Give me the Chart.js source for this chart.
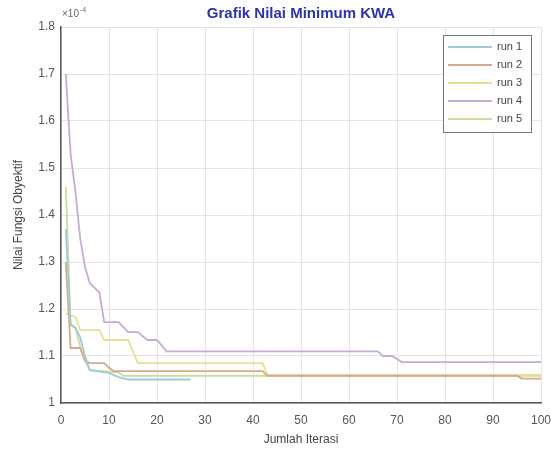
<!DOCTYPE html>
<html>
<head>
<meta charset="utf-8">
<script src="https://cdn.jsdelivr.net/npm/chart.js@4/dist/chart.umd.min.js"></script>
<style>
html,body{margin:0;padding:0;background:#fff;}
#wrap{width:551px;height:451px;}
</style>
</head>
<body>
<div id="wrap"><canvas id="c" width="551" height="451"></canvas></div>
<script>
// values in units of 1e-4
const seriesLabels = ["run 1", "run 2", "run 3", "run 4", "run 5"];
const xTicks = [0, 10, 20, 30, 40, 50, 60, 70, 80, 90, 100];
const yTicks = [1, 1.1, 1.2, 1.3, 1.4, 1.5, 1.6, 1.7, 1.8];

const run1X = [1, 2, 3, 4, 5, 6, 10, 12, 14, 27];
const run1Y = [1.37, 1.165, 1.16, 1.14, 1.10, 1.07, 1.064, 1.055, 1.05, 1.05];

const run2X = [1, 2, 4, 5, 6, 9, 10, 11, 42, 43, 95, 96, 100];
const run2Y = [1.30, 1.117, 1.117, 1.09, 1.085, 1.085, 1.075, 1.068, 1.068, 1.058, 1.058, 1.052, 1.052];

const run3X = [1, 3, 4, 8, 9, 14, 16, 42, 43, 100];
const run3Y = [1.19, 1.183, 1.155, 1.155, 1.134, 1.134, 1.085, 1.085, 1.060, 1.060];

const run4X = [1, 2, 3, 4, 5, 6, 7, 8, 9, 12, 14, 16, 18, 20, 22, 66, 67, 69, 71, 100];
const run4Y = [1.70, 1.53, 1.45, 1.35, 1.29, 1.255, 1.245, 1.235, 1.172, 1.172, 1.151, 1.151, 1.134, 1.134, 1.110, 1.110, 1.100, 1.100, 1.087, 1.087];

const run5X = [1, 2, 3, 4, 5, 6, 12, 13, 100];
const run5Y = [1.46, 1.17, 1.16, 1.12, 1.09, 1.07, 1.065, 1.058, 1.058];

const seriesColors = ["#9fcbd8", "#d6aa8c", "#e8df96", "#c6aad8", "#cddc98"];

const allX = [run1X, run2X, run3X, run4X, run5X];
const allY = [run1Y, run2Y, run3Y, run4Y, run5Y];

const datasets = seriesLabels.map((lab, i) => ({
  label: lab,
  data: allX[i].map((x, j) => ({ x: x, y: allY[i][j] })),
  borderColor: seriesColors[i],
  backgroundColor: seriesColors[i],
  borderWidth: 1.8,
  pointRadius: 0,
  tension: 0,
  fill: false
}));

const FONT = "'Liberation Sans', Arial, sans-serif";

const overlay = {
  id: 'overlay',
  afterDraw(chart) {
    const ctx = chart.ctx;
    const area = chart.chartArea;
    ctx.save();
    // exponent label
    ctx.fillStyle = '#666';
    ctx.textBaseline = 'alphabetic';
    ctx.textAlign = 'left';
    ctx.font = '10px ' + FONT;
    ctx.fillText('\u00d710', area.left + 1, area.top - 10);
    const w = ctx.measureText('\u00d710').width;
    ctx.font = '7px ' + FONT;
    ctx.fillText('-4', area.left + 1 + w + 1, area.top - 15);
    // legend
    const bx = 443, by = 35, bw = 88, bh = 97;
    ctx.fillStyle = '#fff';
    ctx.fillRect(bx, by, bw, bh);
    ctx.strokeStyle = '#777';
    ctx.lineWidth = 1;
    ctx.strokeRect(bx + 0.5, by + 0.5, bw, bh);
    ctx.font = '11px ' + FONT;
    ctx.textBaseline = 'middle';
    chart.data.datasets.forEach((ds, i) => {
      const y = by + 12 + i * 18;
      ctx.strokeStyle = ds.borderColor;
      ctx.lineWidth = 2;
      ctx.beginPath();
      ctx.moveTo(bx + 5, y);
      ctx.lineTo(bx + 49, y);
      ctx.stroke();
      ctx.fillStyle = '#444';
      ctx.fillText(ds.label, bx + 54, y);
    });
    ctx.restore();
  }
};

new Chart(document.getElementById('c'), {
  type: 'line',
  data: { datasets: datasets },
  options: {
    responsive: false,
    animation: false,
    devicePixelRatio: 1,
    layout: { padding: { left: 0, right: 0, top: 0, bottom: 0 } },
    plugins: {
      legend: { display: false },
      tooltip: { enabled: false },
      title: {
        display: true,
        text: 'Grafik Nilai Minimum KWA',
        color: '#2b35a8',
        fullSize: false,
        font: { family: FONT, size: 15, weight: 'bold' },
        padding: { top: 5, bottom: 4 }
      }
    },
    scales: {
      x: {
        type: 'linear',
        min: 0, max: 100,
        afterBuildTicks: (s) => { s.ticks = xTicks.map(v => ({ value: v })); },
        afterFit: (s) => { s.height = 48; s.paddingRight = 10; s.paddingLeft = 0; },
        ticks: { color: '#555', font: { family: FONT, size: 12 }, padding: 10, maxRotation: 0 },
        grid: { color: '#e4e4e4', drawTicks: false },
        border: { color: '#555', width: 1.5 },
        title: { display: true, text: 'Jumlah Iterasi', color: '#444', font: { family: FONT, size: 12 }, padding: { top: 2, bottom: 4 } }
      },
      y: {
        type: 'linear',
        min: 1, max: 1.8,
        afterBuildTicks: (s) => { s.ticks = yTicks.map(v => ({ value: v })); },
        afterFit: (s) => { s.width = 61; },
        ticks: { color: '#555', font: { family: FONT, size: 12 }, padding: 6,
          callback: (v) => String(Math.round(v * 10) / 10) },
        grid: { color: '#e4e4e4', drawTicks: false },
        border: { color: '#555', width: 1.5 },
        title: { display: true, text: 'Nilai Fungsi Obyektif', color: '#444', font: { family: FONT, size: 12 }, padding: { top: 11, bottom: 4 } }
      }
    }
  },
  plugins: [overlay]
});
</script>
</body>
</html>
